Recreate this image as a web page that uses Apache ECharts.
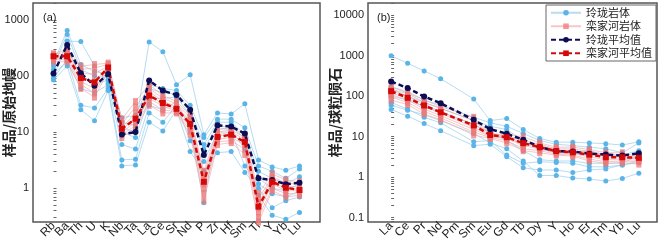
<!DOCTYPE html>
<html>
<head>
<meta charset="utf-8">
<script src="https://cdn.jsdelivr.net/npm/echarts@6/dist/echarts.min.js"></script>
<style>
html, body { margin: 0; padding: 0; background: #fff; }
#chart { width: 661px; height: 242px; }
</style>
</head>
<body>
<div id="chart"></div>
<script>
// 元素顺序
var spiderElems = ['Rb','Ba','Th','U','K','Nb','Ta','La','Ce','Sr','Nd','P','Zr','Hf','Sm','Ti','Y','Yb','Lu'];
var reeElems = ['La','Ce','Pr','Nd','Pm','Sm','Eu','Gd','Tb','Dy','Y','Ho','Er','Tm','Yb','Lu'];

// 刻度
var spiderTicks = [1, 10, 100, 1000];
var reeTicks = [0.1, 1, 10, 100, 1000, 10000];

// (a) 原始地幔标准化 - 玲珑岩体
var llSpider = [
	[95, 420, 410, 150, 75, 15, 13, 405, 270, 70, 105, 9, 22, 21, 32, 3.2, 2.4, 2.1, 2.5],
	[170, 650, 160, 120, 110, 18, 20, 70, 60, 55, 30, 8, 17, 17, 12, 2.5, 2.0, 1.5, 2.2],
	[150, 550, 130, 100, 95, 12, 10, 60, 50, 48, 25, 6, 15, 15, 9, 2.0, 1.5, 1.2, 1.6],
	[130, 300, 100, 70, 85, 10, 8, 40, 40, 42, 20, 5, 13, 12, 8, 1.5, 1.0, 0.9, 1.2],
	[90, 200, 30, 27, 60, 3.2, 3.3, 22, 15, 30, 7, 3, 10, 10, 2.5, 1.2, 0.8, 0.7, 0.9],
	[85, 150, 25, 16, 55, 2.5, 2.6, 15, 10.5, 25, 4.5, 2, 4.3, 4.5, 1.9, 1.0, 0.45, 0.6, 0.7],
	[110, 180, 60, 50, 70, 6, 5, 30, 25, 35, 12, 0.55, 12, 11, 5, 0.75, 0.33, 0.28, 0.37]
];
// (a) 栾家河岩体
var ljhSpider = [
	[250, 300, 150, 160, 170, 17, 35, 70, 45, 35, 20, 2.0, 11, 12, 9, 0.8, 1.8, 1.4, 1.3],
	[240, 270, 130, 140, 160, 14, 28, 60, 40, 32, 18, 1.7, 10, 11, 8, 0.65, 1.6, 1.25, 1.15],
	[225, 250, 110, 110, 150, 12, 22, 52, 36, 28, 16, 1.4, 9, 10, 7.5, 0.55, 1.5, 1.1, 1.05],
	[215, 230, 95, 80, 145, 11, 18, 45, 32, 26, 14, 1.2, 8.5, 9, 6.5, 0.45, 1.3, 1.0, 0.95],
	[205, 210, 80, 60, 135, 10, 15, 40, 29, 24, 12, 1.0, 7.5, 8, 6, 0.38, 1.2, 0.9, 0.9],
	[195, 195, 70, 50, 130, 9, 13, 35, 25, 23, 10.5, 0.8, 6.8, 7, 5, 0.3, 1.0, 0.8, 0.8],
	[180, 180, 60, 42, 120, 8, 12, 30, 22, 22, 9, 0.6, 6, 6.5, 4, 0.25, 0.9, 0.7, 0.75]
];
var llSpiderAvg = [111, 358, 112, 67, 108, 9.1, 10, 83, 55, 46, 25, 3.9, 13.2, 12.6, 9.4, 1.5, 1.4, 1.18, 1.25];
var ljhSpiderAvg = [225, 225, 92, 77, 142, 11.5, 17.3, 45, 33, 26, 14, 1.3, 8.2, 9, 6.7, 0.47, 1.3, 1.02, 0.93];

// (b) 球粒陨石标准化
var llRee = [
	[1000, 650, 420, 270, null, 85, 25, 28, 15, 9, 7.3, 7.3, 7, 6.7, 6.2, 7.5],
	[170, 120, 80, 60, null, 30, 22, 18, 12, 8, 6.5, 6, 5.5, 5, 4, 7],
	[150, 100, 70, 50, null, 25, 18, 15, 8, 5, 4, 4, 4.5, 3.5, 3.5, 4.5],
	[100, 80, 55, 40, null, 20, 13, 8, 4.5, 2.7, 2.5, 2.5, 2.2, 2.2, 2.2, 3.5],
	[70, 48, 30, 22, null, 7.5, 8, 3.5, 2.2, 2.4, 2.3, 2.2, 1.8, 1.8, 2, 2.5],
	[47, 32, 21, 14, null, 6, 6.5, 3.2, 1.7, 1.5, 1.5, 1.3, 1.5, 1.6, 2, 2.3],
	[60, 45, 35, 25, null, 12, 7, 5, 2.5, 1.1, 1.1, 0.95, 0.9, 0.8, 0.93, 1.25]
];
var ljhRee = [
	[170, 130, 80, 55, null, 30, 12, 11, 10, 7, 5.5, 5.5, 4.8, 4, 4, 3.2],
	[150, 115, 70, 50, null, 25, 11.5, 10.5, 8, 6.5, 5, 5, 4.3, 3.6, 3.5, 3.0],
	[135, 100, 62, 42, null, 20, 11, 10, 7, 6, 4.7, 4.5, 4, 3.3, 3.2, 2.9],
	[120, 88, 55, 38, null, 17, 10.5, 9.5, 6.5, 5.5, 4.3, 4.2, 3.6, 3, 3, 2.8],
	[110, 80, 48, 33, null, 15, 10, 9, 6, 5, 4, 3.8, 3.2, 2.7, 2.7, 2.6],
	[95, 70, 42, 29, null, 13, 9.5, 8, 5, 4.5, 3.7, 3.5, 2.8, 2.4, 2.5, 2.4],
	[80, 62, 36, 26, null, 11, 9, 7, 4.5, 4, 3.5, 3.3, 2.5, 2.2, 2.3, 2.1]
];
var llReeAvg = [231, 158, 98, 67, null, 26, 15.3, 11.8, 8.4, 5.5, 4.4, 4.3, 3.8, 3.6, 3.4, 3.9];
var ljhReeAvg = [133, 91, 59, 40, null, 19, 11, 9.7, 6.9, 5.5, 4.4, 4.1, 3.6, 3.1, 3.1, 3.0];

var LL = '玲珑岩体', LJH = '栾家河岩体', LLA = '玲珑平均值', LJHA = '栾家河平均值';
var labelFont = 'Liberation Sans';
var cjkFont = 'Noto Sans CJK SC';

function pairs(vals) {
	var out = [];
	vals.forEach(function (v, i) {
		if (v != null) out.push([i, v]);
	});
	return out;
}

function sampleLine(name, vals, g, blue) {
	return {
		name: name,
		type: 'line',
		xAxisIndex: g,
		yAxisIndex: g,
		data: pairs(vals),
		symbol: blue ? 'circle' : 'rect',
		symbolSize: blue ? 5 : [5, 7],
		lineStyle: {
			width: 1,
			color: blue ? 'rgba(150,205,235,0.7)' : 'rgba(240,160,160,0.6)'
		},
		itemStyle: {
			color: blue ? '#5ab4e8' : 'rgba(236,120,120,0.75)'
		},
		emphasis: { disabled: true },
		z: 2
	};
}

function avgLine(name, vals, g, blue) {
	return {
		name: name,
		type: 'line',
		xAxisIndex: g,
		yAxisIndex: g,
		data: pairs(vals),
		symbol: blue ? 'circle' : 'rect',
		symbolSize: 6,
		lineStyle: {
			width: 2.5,
			type: [5, 3],
			color: blue ? '#0d0d55' : '#d40a0a'
		},
		itemStyle: {
			color: blue ? '#0d0d55' : '#d40a0a'
		},
		emphasis: { disabled: true },
		z: 4
	};
}

// 对数轴次刻度
function minorTicks(lo, hi) {
	var out = [];
	for (var e = lo; e <= hi; e++) {
		for (var m = 1; m <= 9; m++) out.push(+(m * Math.pow(10, e)).toPrecision(3));
	}
	return out;
}

function xAxisCfg(g, names, min, max) {
	// 两端各加一个空标签，避免首尾标签挤掉相邻标签
	var vals = [-1];
	names.forEach(function (n, i) { vals.push(i); });
	vals.push(names.length);
	return {
		type: 'value',
		gridIndex: g,
		min: min,
		max: max,
		axisLine: { show: false },
		axisTick: { show: false },
		splitLine: { show: false },
		axisLabel: {
			customValues: vals,
			formatter: function (v) { return names[v] || ''; },
			interval: 0,
			rotate: 45,
			margin: 2,
			fontSize: 12,
			fontFamily: labelFont,
			color: '#222',
			hideOverlap: false
		}
	};
}

function yAxisCfg(g, name, min, max, ticks, lo, hi, gap) {
	return {
		type: 'log',
		logBase: 10,
		gridIndex: g,
		min: min,
		max: max,
		name: name,
		nameLocation: 'middle',
		nameGap: gap,
		nameMoveOverlap: false,
		nameTextStyle: { fontSize: 14, fontWeight: 'bold', fontFamily: cjkFont, color: '#222' },
		axisLine: { show: false },
		axisTick: {
			inside: true,
			length: 3,
			customValues: minorTicks(lo, hi).filter(function (v) { return v >= min && v <= max; }),
			lineStyle: { color: '#666', width: 1 }
		},
		splitLine: { show: false },
		axisLabel: {
			customValues: ticks,
			formatter: function (v) { return String(v); },
			fontSize: 11,
			fontFamily: labelFont,
			color: '#222',
			margin: 4,
			showMinLabel: true,
			showMaxLabel: true,
			hideOverlap: false
		}
	};
}

var series = [];
llSpider.forEach(function (s) { series.push(sampleLine(LL, s, 0, true)); });
ljhSpider.forEach(function (s) { series.push(sampleLine(LJH, s, 0, false)); });
series.push(avgLine(LLA, llSpiderAvg, 0, true));
series.push(avgLine(LJHA, ljhSpiderAvg, 0, false));
llRee.forEach(function (s) { series.push(sampleLine(LL, s, 1, true)); });
ljhRee.forEach(function (s) { series.push(sampleLine(LJH, s, 1, false)); });
series.push(avgLine(LLA, llReeAvg, 1, true));
series.push(avgLine(LJHA, ljhReeAvg, 1, false));

var myChart = echarts.init(document.getElementById('chart'));
myChart.setOption({
	animation: false,
	backgroundColor: '#fff',
	grid: [
		{ left: 33, right: 341, top: 3, bottom: 20, show: true, borderColor: '#555', borderWidth: 1.5, backgroundColor: 'transparent', containLabel: false, outerBoundsMode: 'none' },
		{ left: 368, right: 4, top: 3, bottom: 20, show: true, borderColor: '#555', borderWidth: 1.5, backgroundColor: 'transparent', containLabel: false, outerBoundsMode: 'none' }
	],
	title: [
		{ text: '(a)', left: 38, top: 7, textStyle: { fontSize: 11, fontWeight: 'normal', fontFamily: labelFont, color: '#222' } },
		{ text: '(b)', left: 372, top: 7, textStyle: { fontSize: 11, fontWeight: 'normal', fontFamily: labelFont, color: '#222' } }
	],
	legend: {
		data: [LL, LJH, LLA, LJHA],
		orient: 'vertical',
		right: 5,
		top: 5,
		itemWidth: 30,
		itemHeight: 7,
		itemGap: 2,
		padding: [2, 4, 2, 4],
		borderColor: '#666',
		borderWidth: 1,
		backgroundColor: '#fff',
		textStyle: { fontSize: 11, lineHeight: 11.5, fontFamily: cjkFont, color: '#222' }
	},
	xAxis: [
		xAxisCfg(0, spiderElems, -1.5, 19.5),
		xAxisCfg(1, reeElems, -1.4, 16.1)
	],
	yAxis: [
		yAxisCfg(0, '样品/原始地幔', 0.25, 2000, spiderTicks, -1, 3, 17),
		yAxisCfg(1, '样品/球粒陨石', 0.078, 20000, reeTicks, -2, 4, 26)
	],
	series: series
});
</script>
</body>
</html>
